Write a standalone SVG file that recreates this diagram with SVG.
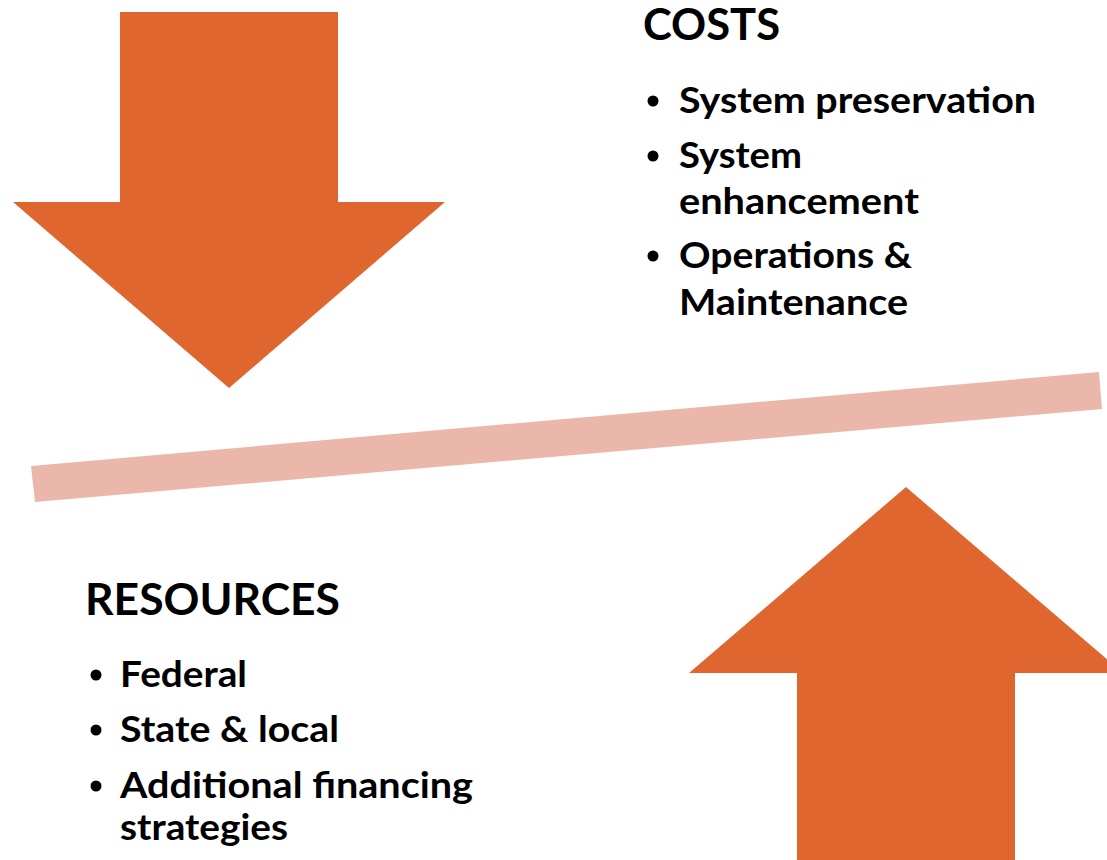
<svg xmlns="http://www.w3.org/2000/svg" width="1107" height="860" viewBox="0 0 1107 860">
<style>
.arrow{fill:#DF662E}
.beam{fill:#EBB7AA}
.h{font-family:Lato,"Liberation Sans",sans-serif;font-weight:700;font-size:43px;fill:#000}
.t{font-family:Lato,"Liberation Sans",sans-serif;font-weight:700;font-size:37px;fill:#000}
.b{fill:#000}
</style>
<rect width="1107" height="860" fill="#fff"/>
<g id="connectors"></g>
<g id="down-arrow">
<polygon class="arrow" points="120,12 338,12 338,202 445,202 229,388 13,202 120,202"/>
</g>
<g id="beam">
<polygon class="beam" points="31,466 1099,372 1102,409 35,502"/>
</g>
<g id="up-arrow">
<polygon class="arrow" points="906,487 1123,673 1015,673 1015,860 797,860 797,673 689,673"/>
</g>
<g id="costs">
<text class="h" x="643" y="40" textLength="137" lengthAdjust="spacingAndGlyphs">COSTS</text>
<circle class="b" cx="653" cy="101" r="5.5"/>
<text class="t" x="679" y="113" textLength="357" lengthAdjust="spacingAndGlyphs">System preservation</text>
<circle class="b" cx="653" cy="156" r="5.5"/>
<text class="t" x="679" y="168" textLength="123" lengthAdjust="spacingAndGlyphs">System</text>
<text class="t" x="679" y="214" textLength="240" lengthAdjust="spacingAndGlyphs">enhancement</text>
<circle class="b" cx="653" cy="256" r="5.5"/>
<text class="t" x="679" y="268" textLength="233" lengthAdjust="spacingAndGlyphs">Operations &amp;</text>
<text class="t" x="679" y="315" textLength="229" lengthAdjust="spacingAndGlyphs">Maintenance</text>
</g>
<g id="resources">
<text class="h" x="85" y="615" textLength="255" lengthAdjust="spacingAndGlyphs">RESOURCES</text>
<circle class="b" cx="96" cy="675" r="5.5"/>
<text class="t" x="120" y="687" textLength="127" lengthAdjust="spacingAndGlyphs">Federal</text>
<circle class="b" cx="96" cy="730" r="5.5"/>
<text class="t" x="120" y="742" textLength="219" lengthAdjust="spacingAndGlyphs">State &amp; local</text>
<circle class="b" cx="96" cy="786" r="5.5"/>
<text class="t" x="120" y="798" textLength="353" lengthAdjust="spacingAndGlyphs">Additional financing</text>
<text class="t" x="120" y="840" textLength="168" lengthAdjust="spacingAndGlyphs">strategies</text>
</g>
</svg>
